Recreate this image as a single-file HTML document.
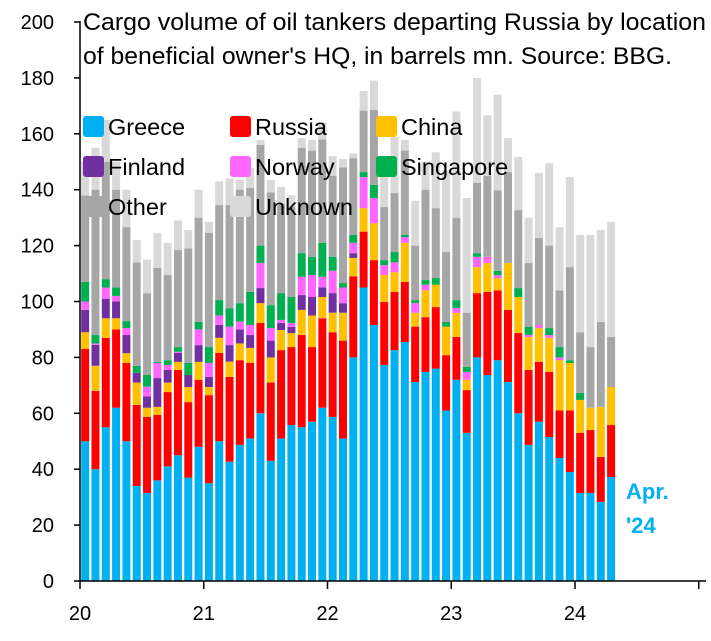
<!DOCTYPE html>
<html><head><meta charset="utf-8"><style>
body{margin:0;background:#fff;}
svg text{font-family:"Liberation Sans",Arial,sans-serif;}
</style></head><body>
<svg id="chart" width="711" height="636" xmlns="http://www.w3.org/2000/svg">
<g id="bars"></g>
<g id="axes"></g>
<text x="83" y="30" font-size="24" textLength="623" lengthAdjust="spacingAndGlyphs" fill="#000">Cargo volume of oil tankers departing Russia by location</text>
<text x="83" y="64" font-size="24" textLength="589" lengthAdjust="spacingAndGlyphs" fill="#000">of beneficial owner's HQ, in barrels mn. Source: BBG.</text>
<g id="legend"></g>
<text x="626" y="499" font-size="22" font-weight="bold" fill="#00B0F0">Apr.</text>
<text x="626" y="533" font-size="22" font-weight="bold" fill="#00B0F0">'24</text>
</svg>
<script>
const greece=[50,40,55,62,50,34,31.5,36,41,45,37,48,35,50,42.7,48.7,51,60,43,51,55.8,55,57,62,58.7,51,80,105,91.6,77.3,82.6,85.5,71.2,74.8,76,61,72,53,80,73.7,79,71.2,60,48.7,57,51.5,44,39,31.5,31.5,28.3,37.2];
const russia=[33,28,32,28,28,29,27.2,23.4,26.6,30.5,27,24,31.5,31.6,30.3,30.3,27,32.3,28,31.6,27.9,33,26.7,32,30.3,35,29,20,23.2,22.5,20.8,21.5,19.8,19.6,22,19.8,15.3,15.3,23,29.7,25,25.8,28.7,26.8,21.4,23.3,17,22,21.5,22.5,16.1,18.6];
const china=[6,9,7,4,3.5,8,3.3,2.9,3.4,2.9,5.4,6.4,2.9,5.4,5.5,6,5.4,7.1,9,7.2,5,9,11.3,7.6,7,10,6.6,8.4,13.2,9.7,7.1,14,5,9.6,8,10.2,8.6,3.7,9.3,10.4,4.4,16.8,12.9,11.8,12.1,12.2,18,17,11.8,8,17.9,13.6];
const finland=[8,7.5,7,6,6.5,3.5,4,10.3,4.5,3.2,4.3,6,3.6,4.6,5.9,5,4.6,5.4,6,2.5,2.2,5.3,6.6,3.4,7,3.4,1.7,0,0,0,0,0,0,0,0,0,0,0,0,0,0,0,0,0,0,0,0,0,0,0,0,0];
const norway=[3,0.5,4,2,2.5,0,3.5,5.4,1.8,0.4,0,5.6,5,3.4,6.6,2.8,3.6,9,4.5,1.1,1.4,6.5,7.9,3.8,8,5.6,3.7,11.1,9,3.5,3.5,2,3.4,2,0,0,1.8,2.8,3.7,2.2,1,0,0,0.7,1.1,1,1,0,0,0,0,0];
const singapore=[7,3,3,3,2.5,2.5,4.2,0.4,1.7,1.7,4.3,2.7,5.7,5.5,6.6,6.6,11.8,6.2,8.2,9.6,9.3,8.5,6.5,12.2,5,1.6,2.8,1.8,4.7,1.8,3.7,0.8,1.1,1.7,2.4,1.7,2.8,1.8,1.3,0,1.6,0,3.2,3,0,2.5,3.7,1,2.5,0,0,0];
const other=[31,52,42,35,33.6,37,29.3,33.6,30.5,34.7,41,37.3,40.8,34,36.9,40.6,37.2,36,40.3,32,32.2,37.7,38,37,29,41.4,27.5,22,26.8,19,21.1,30.2,19.5,32.3,25,25,29.5,19.4,25.1,29,28.8,32.5,27.9,22.8,31.1,29.5,20.3,33.3,21.7,21.7,30.4,17.9];
const unknown=[12,15,15,10,13.4,8,12,12.5,11.5,10.6,6.6,10,4,8.5,9.5,3.5,7.2,1.8,4.5,6,4.2,3.5,3.8,6,7,3,1.7,7,10.5,13.2,20,3.8,16,10,20,29.3,38,41,37.6,21.7,34.2,12.2,19,16.2,23.3,29.5,22.6,32.2,34.8,40.1,32.9,41.2];
const seriesNames=["Greece","Russia","China","Finland","Norway","Singapore","Other","Unknown"];
const yTicks=[0,20,40,60,80,100,120,140,160,180,200];
const xTickLabels=["20","21","22","23","24"];

const series=[greece,russia,china,finland,norway,singapore,other,unknown];
const colors=["#00B0F0","#FF0000","#FFC000","#7030A0","#FF66FF","#00B050","#A6A6A6","#D9D9D9"];
const NS="http://www.w3.org/2000/svg";
const x0=80,monthW=(575-80)/48,y0=581,yTop=22,yMax=200;
function yScale(v){return y0-(v/yMax)*(y0-yTop);}
function xScale(i){return x0+(i+0.5)*monthW;}
function mk(tag,attrs,parent){const e=document.createElementNS(NS,tag);for(const k in attrs)e.setAttribute(k,attrs[k]);parent.appendChild(e);return e;}
const gb=document.getElementById('bars');
const bw=8;
for(let i=0;i<greece.length;i++){
  let cum=0;
  for(let s=0;s<series.length;s++){
    const v=series[s][i];
    if(v<=0){continue;}
    const yT=yScale(cum+v),yB=yScale(cum);
    const r=mk('rect',{x:xScale(i)-bw/2,y:yT,width:bw,height:Math.max(0,yB-yT),fill:colors[s]},gb);
    
    
    cum+=v;
  }
}
const ga=document.getElementById('axes');
const yl=mk('line',{x1:x0,y1:yTop-1,x2:x0,y2:y0,stroke:"#000","stroke-width":1.5},ga);


const xl=mk('line',{x1:x0,y1:y0,x2:706,y2:y0,stroke:"#000","stroke-width":1.5},ga);


yTicks.forEach(t=>{
  const y=yScale(t);
  const tk=mk('line',{x1:x0-6,y1:y,x2:x0,y2:y,stroke:"#000","stroke-width":1.5},ga);
  
  
  const tx=mk('text',{x:54,y:y+7,"font-size":20,"text-anchor":"end",fill:"#000"},ga);
  tx.textContent=t;
  
  
});
xTickLabels.forEach((lab,k)=>{
  const x=x0+k*12*monthW;
  const tk=mk('line',{x1:x,y1:y0,x2:x,y2:y0+8,stroke:"#000","stroke-width":1.5},ga);
  
  
  const tx=mk('text',{x:x,y:620,"font-size":20,"text-anchor":"middle",fill:"#000"},ga);
  tx.textContent=lab;
  
  
});
const tk5=mk('line',{x1:x0+60*monthW,y1:y0,x2:x0+60*monthW,y2:y0+8,stroke:"#000","stroke-width":1.5},ga);


const gl=document.getElementById('legend');
const lx=[83,230,376],ly=[127,167,207];
seriesNames.forEach((n,k)=>{
  const cx=lx[k%3],cy=ly[Math.floor(k/3)];
  const g=mk('g',{},gl);
  
  
  mk('rect',{x:cx,y:cy-11,width:21,height:21,rx:3,fill:colors[k]},g);
  const t=mk('text',{x:cx+25,y:cy+8,"font-size":23.5,fill:"#000"},g);
  t.textContent=n;
});
</script>
</body></html>
